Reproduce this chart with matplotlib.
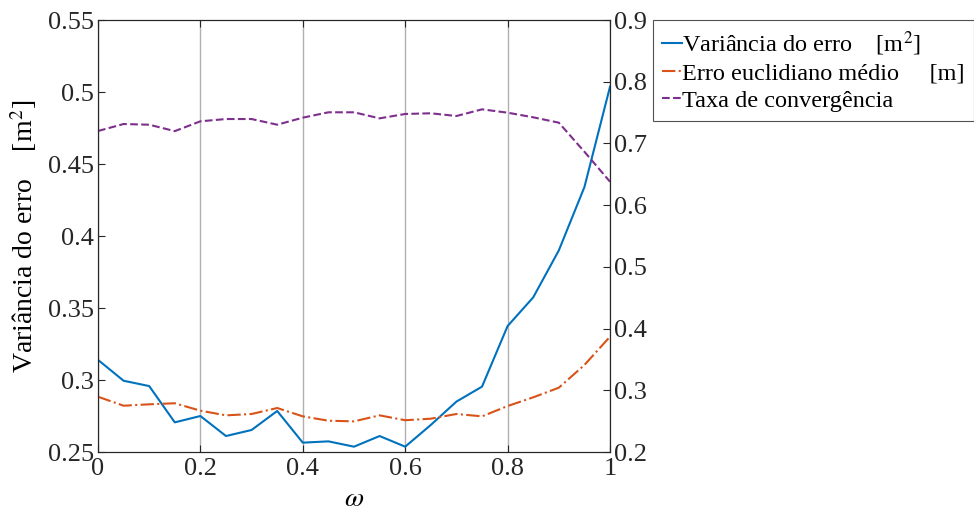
import matplotlib.pyplot as plt
import numpy as np

# dados
omega = [0.0, 0.05, 0.1, 0.15, 0.2, 0.25, 0.3, 0.35, 0.4, 0.45, 0.5,
         0.55, 0.6, 0.65, 0.7, 0.75, 0.8, 0.85, 0.9, 0.95, 1.0]
variancia = [0.314, 0.2995, 0.2958, 0.2706, 0.275, 0.2611, 0.2653, 0.2785, 0.2565, 0.2574, 0.2537,
             0.2611, 0.2537, 0.2688, 0.285, 0.2954, 0.3375, 0.3574, 0.390, 0.434, 0.5037]
erro_medio = [0.2896, 0.275, 0.2773, 0.279, 0.267, 0.2594, 0.2616, 0.2713, 0.2578, 0.2507, 0.2497,
              0.2594, 0.2515, 0.254, 0.2616, 0.2578, 0.2745, 0.2886, 0.3042, 0.341, 0.3869]
taxa_conv = [0.7202, 0.7315, 0.7304, 0.72, 0.7359, 0.7396, 0.7396, 0.7304, 0.7418, 0.7505, 0.7505,
             0.7407, 0.7478, 0.7489, 0.7445, 0.7553, 0.7499, 0.7424, 0.7337, 0.6866, 0.638]

xticks = [0, 0.2, 0.4, 0.6, 0.8, 1]
xtick_labels = ['0', '0.2', '0.4', '0.6', '0.8', '1']
yticks_esq = [0.25, 0.3, 0.35, 0.4, 0.45, 0.5, 0.55]
yticks_dir = [0.2, 0.3, 0.4, 0.5, 0.6, 0.7, 0.8, 0.9]

plt.rcParams.update({
    'font.family': 'Liberation Serif',
    'mathtext.fontset': 'stix',
    'font.size': 19,
    'axes.edgecolor': '#262626',
    'xtick.color': '#262626',
    'ytick.color': '#262626',
    'axes.linewidth': 0.8,
})

fig = plt.figure(figsize=(9.74, 5.14), dpi=100)
ax = fig.add_axes([0.1006, 0.1206, 0.5257, 0.8404])
ax2 = ax.twinx()

l1, = ax.plot(omega, variancia, color='#0072BD', linestyle='-', linewidth=1.5,
              label='Variância do erro    [m$^2$]')
l2, = ax2.plot(omega, erro_medio, color='#D95319', linestyle='-.', linewidth=1.5,
               label='Erro euclidiano médio     [m]')
l3, = ax2.plot(omega, taxa_conv, color='#7E2F8E', linestyle='--', linewidth=1.5,
               label='Taxa de convergência')

ax.set_xlim(0, 1)
ax.set_ylim(0.25, 0.55)
ax2.set_ylim(0.2, 0.9)
ax.set_xticks(xticks)
ax.set_xticklabels(xtick_labels)
ax.set_yticks(yticks_esq)
ax.set_yticklabels([f'{v:g}' for v in yticks_esq])
ax2.set_yticks(yticks_dir)
ax2.set_yticklabels([f'{v:g}' for v in yticks_dir])

ax.tick_params(axis='x', direction='in', top=True, length=5, pad=4, labelsize=19)
ax.tick_params(axis='y', direction='in', length=5, pad=3, labelsize=19)
ax2.tick_params(axis='y', direction='in', length=5, pad=3, labelsize=19)

ax.grid(axis='x', color='#b0b0b0', linewidth=1)
ax.set_axisbelow(True)

ax.set_xlabel(r'$\omega$', labelpad=5, fontsize=20)
ax.set_ylabel('Variância do erro    [m$^2$]', labelpad=6, fontsize=20)

leg = fig.legend(handles=[l1, l2, l3], loc='upper left',
                 bbox_to_anchor=(0.6704, 0.961), bbox_transform=fig.transFigure,
                 borderaxespad=0, frameon=True, fancybox=False,
                 handlelength=0.8, handletextpad=0.02, borderpad=0.38,
                 labelspacing=0.2, fontsize=17.5)
leg.get_frame().set_edgecolor('#262626')
leg.get_frame().set_linewidth(0.8)

fig.savefig('out.png', dpi=100)
